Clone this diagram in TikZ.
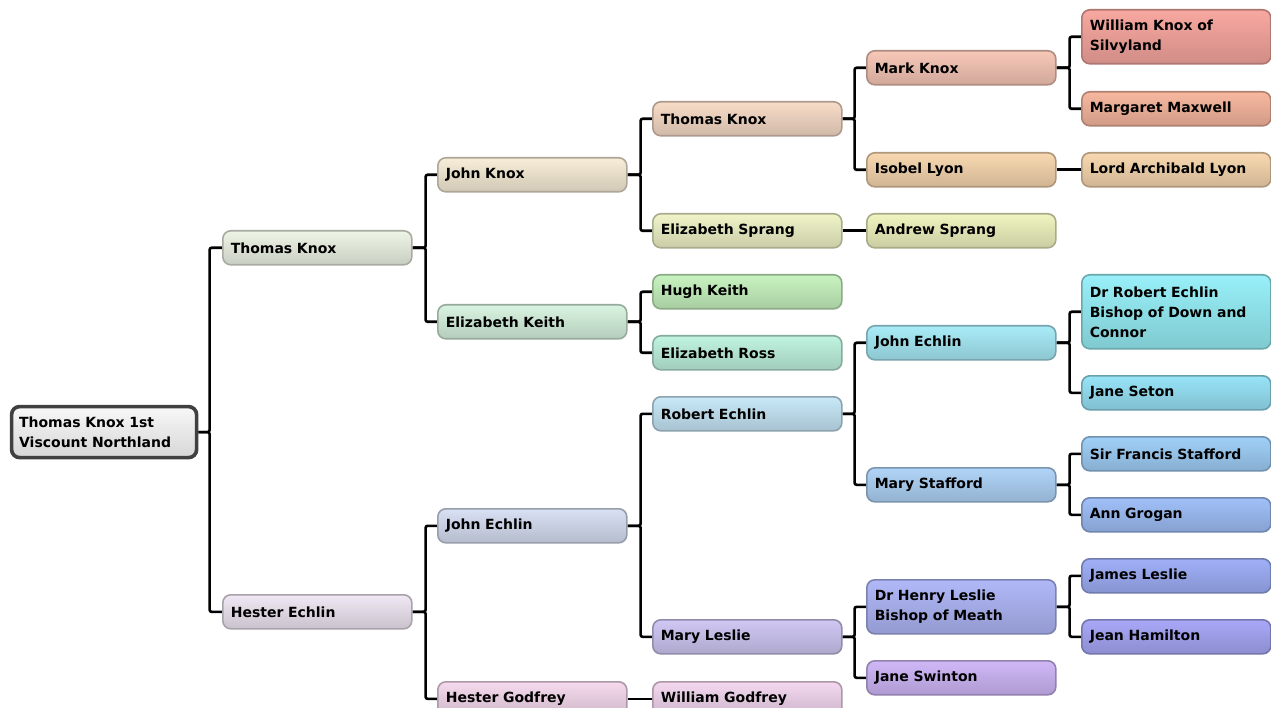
\documentclass[tikz,border=0pt]{standalone}
\usepackage{fontspec}
\setmainfont{DejaVu Sans}
\pgfdeclarelayer{back}
\pgfdeclarelayer{bg}
\pgfsetlayers{back,bg,main}
% fill colours (top of each gradient)
\definecolor{cRoot}{HTML}{F8F8F8}
\definecolor{cA}{HTML}{EEF5E6}
\definecolor{cB}{HTML}{F0E8F4}
\definecolor{cC}{HTML}{F8EED8}
\definecolor{cD}{HTML}{D8F4E0}
\definecolor{cE}{HTML}{D8E0F4}
\definecolor{cF}{HTML}{F6DAEE}
\definecolor{cG}{HTML}{F8DCC8}
\definecolor{cH}{HTML}{F0F4C8}
\definecolor{cI}{HTML}{C8F4C0}
\definecolor{cJ}{HTML}{C0F4E0}
\definecolor{cK}{HTML}{C8E8F8}
\definecolor{cL}{HTML}{D0C8F4}
\definecolor{cM}{HTML}{F4D8F0}
\definecolor{cN}{HTML}{F8C8B8}
\definecolor{cO}{HTML}{F8D8B0}
\definecolor{cP}{HTML}{F0F4C0}
\definecolor{cQ}{HTML}{A8ECF8}
\definecolor{cR}{HTML}{B0D4F8}
\definecolor{cS}{HTML}{B0B8F8}
\definecolor{cT}{HTML}{D0B8F8}
\definecolor{cU}{HTML}{F8A8A0}
\definecolor{cV}{HTML}{F8B8A0}
\definecolor{cW}{HTML}{98F0F8}
\definecolor{cX}{HTML}{98E4F8}
\definecolor{cY}{HTML}{A0D0F8}
\definecolor{cZ}{HTML}{A0C0F8}
\definecolor{cAa}{HTML}{A0B0F8}
\definecolor{cAb}{HTML}{A8A8F8}
\begin{document}
\begin{tikzpicture}[x=1pt,y=-1pt,
  person/.style={draw, line width=1.6pt, rounded corners=8pt, anchor=north west,
    minimum width=189pt, text width=173pt, inner xsep=8pt, inner ysep=0pt,
    align=left, font=\bfseries\fontsize{14}{20}\selectfont, text=black},
  h1/.style={minimum height=34pt},
  h2/.style={minimum height=54pt},
  h3/.style={minimum height=74pt},
  pc/.style={top color=#1, bottom color=#1!84!black, draw=#1!70!black},
  link/.style={draw=black, line width=2.6pt, rounded corners=2pt}]
\clip (0,0) rectangle (1271,708);
\useasboundingbox (0,0) rectangle (1271,708);
\begin{pgfonlayer}{back}
\fill[white] (0,0) rectangle (1271,708);
\end{pgfonlayer}

% root
\node[person, minimum height=51pt, minimum width=185pt, text width=170pt, inner xsep=7.5pt,
  top color=cRoot, bottom color=black!16, draw=black!75, line width=3.6pt]
  (root) at (9.8,404.8) {Thomas Knox 1st\\Viscount Northland};

% generation 1
\node[person, h1, pc=cA] (g1a) at (222,230) {Thomas Knox};
\node[person, h1, pc=cB] (g1b) at (222,594) {Hester Echlin};

% generation 2
\node[person, h1, pc=cC] (g2a) at (437,157) {John Knox};
\node[person, h1, pc=cD] (g2b) at (437,304) {Elizabeth Keith};
\node[person, h1, pc=cE] (g2c) at (437,508) {John Echlin};
\node[person, h1, pc=cF] (g2d) at (437,681) {Hester Godfrey};

% generation 3
\node[person, h1, pc=cG] (g3a) at (652,101) {Thomas Knox};
\node[person, h1, pc=cH] (g3b) at (652,213) {Elizabeth Sprang};
\node[person, h1, pc=cI] (g3c) at (652,274) {Hugh Keith};
\node[person, h1, pc=cJ] (g3d) at (652,335) {Elizabeth Ross};
\node[person, h1, pc=cK] (g3e) at (652,396) {Robert Echlin};
\node[person, h1, pc=cL] (g3f) at (652,619) {Mary Leslie};
\node[person, h1, pc=cM] (g3g) at (652,681) {William Godfrey};

% generation 4
\node[person, h1, pc=cN] (g4a) at (866,50) {Mark Knox};
\node[person, h1, pc=cO] (g4b) at (866,152) {Isobel Lyon};
\node[person, h1, pc=cP] (g4c) at (866,213) {Andrew Sprang};
\node[person, h1, pc=cQ] (g4d) at (866,325) {John Echlin};
\node[person, h1, pc=cR] (g4e) at (866,467) {Mary Stafford};
\node[person, h2, pc=cS] (g4f) at (866,579) {Dr Henry Leslie\\Bishop of Meath};
\node[person, h1, pc=cT] (g4g) at (866,660) {Jane Swinton};

% generation 5
\node[person, h2, pc=cU] (g5a) at (1081,9) {William Knox of\\Silvyland};
\node[person, h1, pc=cV] (g5b) at (1081,91) {Margaret Maxwell};
\node[person, h1, pc=cO] (g5c) at (1081,152) {Lord Archibald Lyon};
\node[person, h3, pc=cW] (g5d) at (1081,274) {Dr Robert Echlin\\Bishop of Down and\\Connor};
\node[person, h1, pc=cX] (g5e) at (1081,375) {Jane Seton};
\node[person, h1, pc=cY] (g5f) at (1081,436) {Sir Francis Stafford};
\node[person, h1, pc=cZ] (g5g) at (1081,497) {Ann Grogan};
\node[person, h1, pc=cAa] (g5h) at (1081,558) {James Leslie};
\node[person, h1, pc=cAb] (g5i) at (1081,619) {Jean Hamilton};

% connectors, behind the boxes
\begin{pgfonlayer}{bg}
% two parents: elbow through a shared vertical bar
\foreach \p/\c/\d in {root/g1a/11.2, root/g1b/11.2,
    g1a/g2a/13, g1a/g2b/13, g1b/g2c/13, g1b/g2d/13,
    g2a/g3a/13, g2a/g3b/13, g2b/g3c/13, g2b/g3d/13, g2c/g3e/13, g2c/g3f/13,
    g3a/g4a/12, g3a/g4b/12, g3e/g4d/12, g3e/g4e/12, g3f/g4f/12, g3f/g4g/12,
    g4a/g5a/13, g4a/g5b/13, g4d/g5d/13, g4d/g5e/13, g4e/g5f/13, g4e/g5g/13,
    g4f/g5h/13, g4f/g5i/13}
  \draw[link] (\p.east) -- ++(\d,0) |- (\c.west);
% one parent: straight line
\foreach \p/\c in {g2d/g3g, g3b/g4c, g4b/g5c}
  \draw[link] (\p.east) -- (\c.west);
\end{pgfonlayer}
\end{tikzpicture}
\end{document}
